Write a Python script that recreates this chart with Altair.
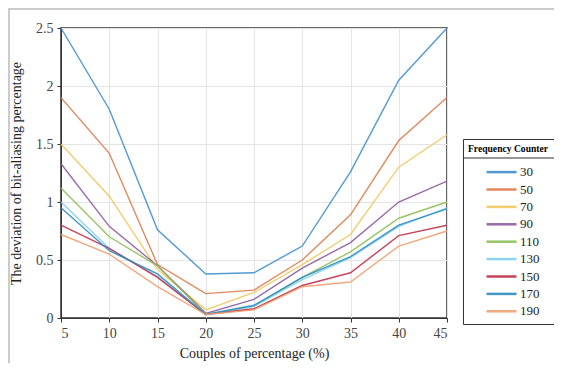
import altair as alt
import pandas as pd

x_vals = [5, 10, 15, 20, 25, 30, 35, 40, 45]
series_names = ["30", "50", "70", "90", "110", "130", "150", "170", "190"]
s30 = [2.50, 1.80, 0.76, 0.38, 0.39, 0.62, 1.26, 2.05, 2.50]
s50 = [1.90, 1.42, 0.46, 0.21, 0.24, 0.50, 0.89, 1.53, 1.90]
s70 = [1.50, 1.05, 0.42, 0.07, 0.22, 0.46, 0.72, 1.30, 1.58]
s90 = [1.33, 0.79, 0.45, 0.04, 0.16, 0.43, 0.65, 1.00, 1.18]
s110 = [1.12, 0.70, 0.45, 0.03, 0.10, 0.35, 0.57, 0.86, 1.00]
s130 = [1.00, 0.60, 0.36, 0.03, 0.10, 0.33, 0.52, 0.79, 0.95]
s150 = [0.80, 0.60, 0.35, 0.03, 0.08, 0.28, 0.39, 0.71, 0.80]
s170 = [0.95, 0.58, 0.38, 0.03, 0.11, 0.35, 0.53, 0.80, 0.94]
s190 = [0.72, 0.55, 0.27, 0.03, 0.07, 0.27, 0.31, 0.62, 0.75]
all_series = [s30, s50, s70, s90, s110, s130, s150, s170, s190]
colors = ["#3f8fcf", "#e07a4c", "#f0c860", "#8e5aa0", "#8cbf55",
          "#7fcff0", "#c0304a", "#2f8cc0", "#eea070"]

rows = []
for name, vals in zip(series_names, all_series):
    for xv, yv in zip(x_vals, vals):
        rows.append({"x": xv, "y": yv, "series": name})
df = pd.DataFrame(rows)

font = "Liberation Serif"

lines = alt.Chart(df).mark_line(strokeWidth=1.4, opacity=0.9).encode(
    x=alt.X("x:Q", scale=alt.Scale(domain=[5, 45], nice=False),
            axis=alt.Axis(values=x_vals, title="Couples of percentage (%)",
                          grid=True, tickSize=4, labelPadding=4, titlePadding=6)),
    y=alt.Y("y:Q", scale=alt.Scale(domain=[0, 2.5], nice=False),
            axis=alt.Axis(values=[0, 0.5, 1, 1.5, 2, 2.5], format=".1~f",
                          title="The deviation of bit-aliasing percentage",
                          grid=True, tickSize=4, labelPadding=4, titlePadding=12)),
    color=alt.Color("series:N", sort=series_names,
                    scale=alt.Scale(domain=series_names, range=colors),
                    legend=alt.Legend(title="Frequency Counter", orient="none",
                                      legendX=402, legendY=111,
                                      symbolType="M-1.875,0H1.875", symbolSize=256,
                                      symbolStrokeWidth=2.5, symbolOffset=24,
                                      labelOffset=9,
                                      strokeColor="#333", padding=5,
                                      titleFontSize=9.6, titleFontWeight="bold",
                                      titleFont=font, labelFont=font,
                                      labelFontSize=13, labelColor="#222",
                                      rowPadding=0.4, titlePadding=9)),
)

frame = alt.Chart(pd.DataFrame({"a": [0]})).mark_rect(
    filled=False, stroke="#bbbbbb", strokeWidth=1.5, clip=False
).encode(x=alt.value(-52), x2=alt.value(520), y=alt.value(-19), y2=alt.value(380))

sep = alt.Chart(pd.DataFrame({"a": [0]})).mark_rule(
    stroke="#333", strokeWidth=1.2, clip=False
).encode(x=alt.value(402), x2=alt.value(493), y=alt.value(130))

chart = alt.layer(frame, lines, sep).properties(
    width=386, height=290,
    autosize=alt.AutoSizeParams(type="none"),
    padding={"left": 53, "top": 20, "right": 107, "bottom": 45},
).configure_view(stroke="#333", strokeWidth=1.5).configure_axis(
    labelFont=font, titleFont=font, labelFontSize=14, titleFontSize=14,
    labelColor="#444", titleColor="#222", titleFontWeight="normal",
    domainColor="#333", tickColor="#333", gridColor="#e4e4e4",
)

chart.save("out.html", embed_options={"renderer": "svg", "actions": False})
